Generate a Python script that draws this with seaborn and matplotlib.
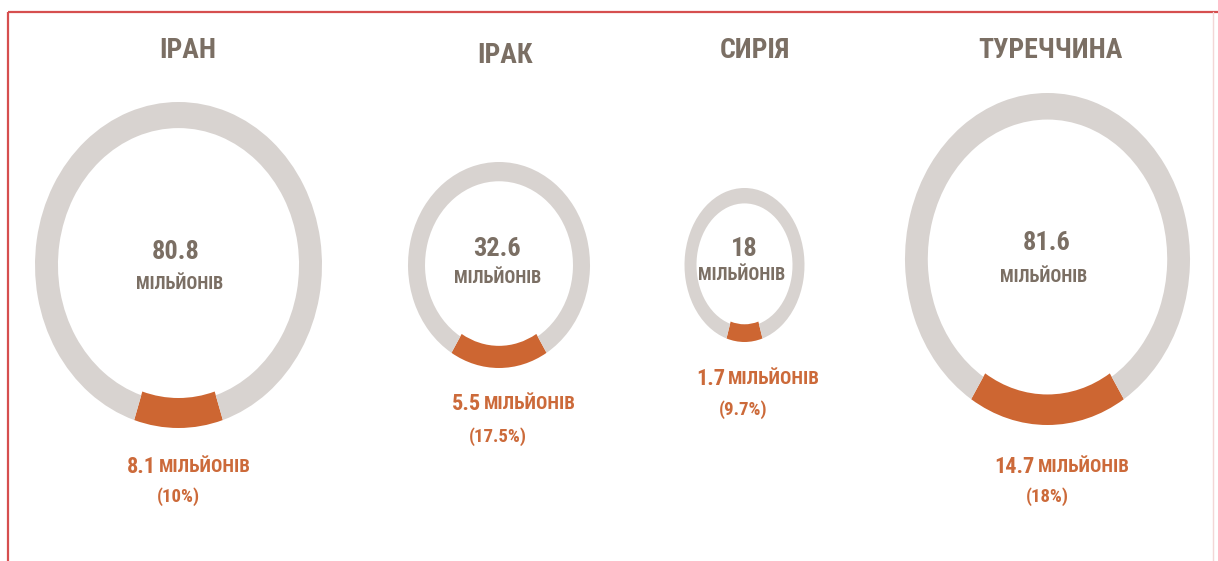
import matplotlib
matplotlib.use("Agg")
import matplotlib.pyplot as plt
import seaborn as sns
from matplotlib import font_manager

# ---- data ----
countries = ["ІРАН", "ІРАК", "СИРІЯ", "ТУРЕЧЧИНА"]
total_mln = [80.8, 32.6, 18, 81.6]
kurds_mln = [8.1, 5.5, 1.7, 14.7]
kurds_pct = [10, 17.5, 9.7, 18]
total_labels = ["80.8", "32.6", "18", "81.6"]
kurds_labels = ["8.1", "5.5", "1.7", "14.7"]
pct_labels = ["(10%)", "(17.5%)", "(9.7%)", "(18%)"]
unit = "МІЛЬЙОНІВ"

# ---- layout (pixels) ----
W, H = 1218, 561
centers = [(178.5, 265), (499, 265), (744.5, 265), (1047.5, 259)]
radii = [(143.5, 163), (91, 103), (60, 77), (142.5, 166)]
ring_w = [0.16, 0.187, 0.2, 0.16]
title_pos = [(188, 50), (505, 55), (755, 50), (1050, 50)]
num_pos = [(176, 252), (497, 249), (744, 248.5), (1047, 243)]
word_pos = [(180, 283.5), (498, 277.5), (742, 275), (1044, 276.5)]
sub_split = [157, 482, 726, 1036]
sub_y = [467, 404, 379, 467]
pct_pos = [(178, 497), (498, 437), (743, 410), (1047, 497)]

GRAY = "#d8d3d0"
ORANGE = "#cd6632"
TXT = "#7b6f64"
OTXT = "#cc6a3a"

sns.set_theme(style="white")
avail = {f.name for f in font_manager.fontManager.ttflist}
fam = [f for f in ["Roboto Condensed", "Liberation Sans Narrow", "Fira Sans Condensed",
                   "IBM Plex Sans Condensed", "DejaVu Sans"] if f in avail]
plt.rcParams["font.family"] = fam

fig = plt.figure(figsize=(W / 100, H / 100), dpi=100)
fig.patch.set_facecolor("white")
bg = fig.add_axes([0, 0, 1, 1])
bg.set_xlim(0, W)
bg.set_ylim(H, 0)
bg.axis("off")

# frame
bg.plot([8, W], [12, 12], color="#d64f4f", lw=1.6, solid_capstyle="butt")
bg.plot([8, 8], [12, H], color="#d64f4f", lw=1.6, solid_capstyle="butt")
bg.plot([1213, 1213], [12, H], color="#f3d6d6", lw=1.0)

for i in range(len(countries)):
    cx, cy = centers[i]
    rx, ry = radii[i]
    ax = fig.add_axes([(cx - rx) / W, 1 - (cy + ry) / H, 2 * rx / W, 2 * ry / H])
    p = kurds_pct[i]
    wedges, _ = ax.pie([p, 100 - p], colors=[ORANGE, GRAY],
                       startangle=270 - p * 1.8, counterclock=True, radius=1,
                       wedgeprops=dict(width=ring_w[i], linewidth=0))
    wedges[0].set_width(ring_w[i] * 1.15)
    ax.set_xlim(-1, 1)
    ax.set_ylim(-1, 1)
    ax.set_aspect("auto")
    ax.axis("off")

    bg.text(*title_pos[i], countries[i], ha="center", va="center",
            fontsize=20, fontweight="bold", color=TXT)
    bg.text(*num_pos[i], total_labels[i], ha="center", va="center",
            fontsize=19, fontweight="bold", color=TXT)
    bg.text(*word_pos[i], unit, ha="center", va="center",
            fontsize=13, fontweight="bold", color=TXT)
    bg.text(sub_split[i] - 1, sub_y[i], kurds_labels[i], ha="right", va="center",
            fontsize=16, fontweight="bold", color=OTXT)
    bg.text(sub_split[i] + 2, sub_y[i], unit, ha="left", va="center",
            fontsize=13.5, fontweight="bold", color=OTXT)
    bg.text(*pct_pos[i], pct_labels[i], ha="center", va="center",
            fontsize=13.5, fontweight="bold", color=OTXT)

fig.savefig("out.png", dpi=100, facecolor="white")
